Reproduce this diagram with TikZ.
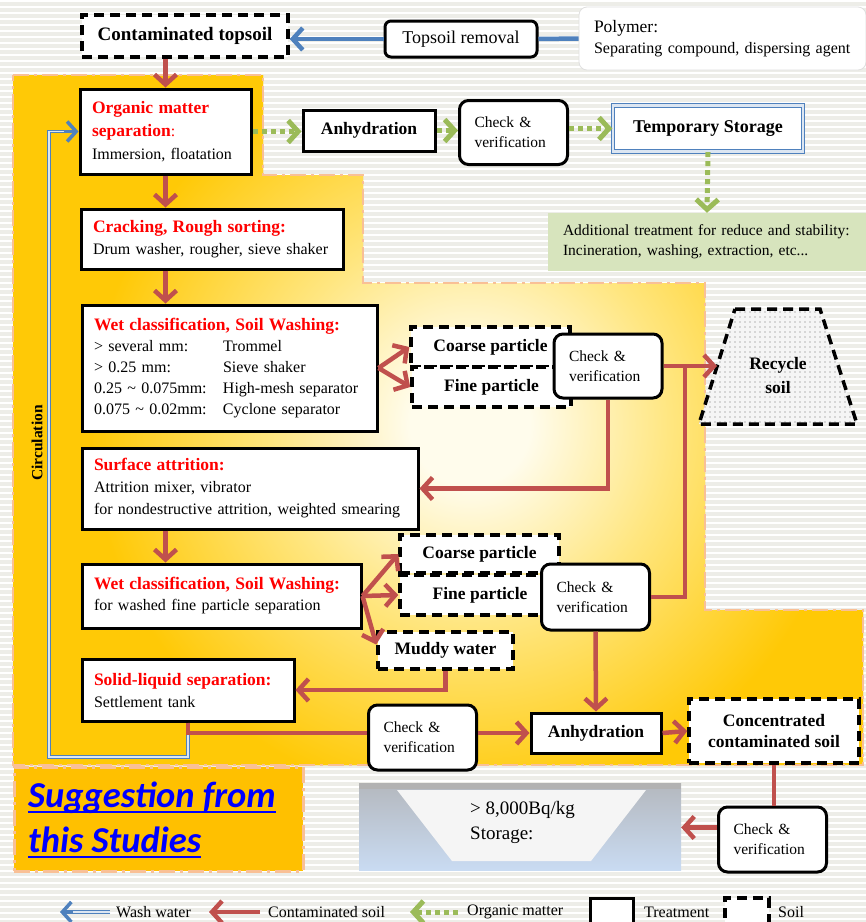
\documentclass[tikz,border=0pt]{standalone}
\usepackage{fontspec}
\setmainfont{Liberation Serif}
\newfontfamily\carl{Carlito}
\usetikzlibrary{arrows.meta,patterns.meta,calc}
\definecolor{redA}{HTML}{C0504D}
\definecolor{blueA}{HTML}{4F81BD}
\definecolor{greenA}{HTML}{9BBB59}
\definecolor{yelA}{HTML}{FFC906}
\definecolor{yelB}{HTML}{FFE680}
\definecolor{creamA}{HTML}{FFFCEC}
\definecolor{peachA}{HTML}{F9C096}
\definecolor{bgA}{HTML}{EDEDE8}
\definecolor{gboxA}{HTML}{D7E4BD}
\definecolor{sugA}{HTML}{FFC000}
\definecolor{sugBlue}{HTML}{0000FF}
\definecolor{titleRed}{HTML}{FF0000}
\definecolor{stTop}{HTML}{B4B8BE}
\definecolor{stBot}{HTML}{C9DBF2}
\definecolor{dblA}{HTML}{DCE6F2}
\pgfdeclareradialshading{yelshade}{\pgfpoint{0bp}{0bp}}{color(0bp)=(creamA); color(3bp)=(creamA); color(10bp)=(yelB); color(19bp)=(yelA); color(50bp)=(yelA)}
\newcommand\rgf{\fontsize{16}{22}\selectfont}
\newcommand\bdf{\fontsize{17.5}{22}\selectfont\bfseries}
\newcommand\ckf{\fontsize{15.5}{20}\selectfont}
\newcommand\ttl[1]{{\color{titleRed}\bdf #1}}
\begin{document}
\begin{tikzpicture}[x=1pt,y=-1pt,
  tbox/.style={draw=black, line width=3pt, fill=white, align=left, inner xsep=12pt, inner ysep=0pt, font=\rgf},
  ckbox/.style={draw=black, line width=3pt, fill=white, rounded corners=9pt, align=left, inner xsep=15pt, inner ysep=0pt, font=\ckf, text width=78, minimum height=64},
  soilbox/.style={draw=black, line width=3.5pt, dash pattern=on 10pt off 6pt, fill=white, align=center, inner sep=0pt, font=\bdf},
  abox/.style={draw=black, line width=3pt, fill=white, align=center, inner sep=0pt, font=\bdf},
  redline/.style={draw=redA, line width=4.5pt},
  redarrow/.style={redline, -{Straight Barb[length=10pt,width=22pt]}},
  greenarrow/.style={draw=greenA, line width=5pt, dash pattern=on 5pt off 4pt, -{Straight Barb[length=10pt,width=22pt]}},
  blueline/.style={draw=blueA, line width=4.5pt},
  bluearrow/.style={blueline, -{Straight Barb[length=10pt,width=22pt]}},
  washdbl/.style={draw=blueA, line width=1.1pt, double=dblA, double distance=1.6pt},
  washtip/.style={draw=blueA, line width=3.5pt, -{Straight Barb[length=9pt,width=20pt]}},
  regborder/.style={draw=peachA, line width=2.5pt, dash pattern=on 16pt off 5pt on 3pt off 5pt},
  lgtext/.style={anchor=west, font=\rgf, inner sep=0pt}
]
\useasboundingbox (0,0) rectangle (866,922);
\clip (0,0) rectangle (866,922);
% background stripes
\fill[bgA] (0,0) rectangle (866,922);
\foreach \yy in {1,7,...,925} \draw[white, line width=2.6pt] (0,\yy) -- (866,\yy);

% yellow process region
\begin{scope}
\clip (13,75) -- (263,75) -- (263,175) -- (363,175) -- (363,283) -- (705,283) -- (705,610) -- (863,610) -- (863,765) -- (13,765) -- cycle;
\fill[yelA] (0,60) rectangle (866,780);
\shade[shading=yelshade] (470,425) circle (500);
\end{scope}
\draw[regborder] (13,75) -- (263,75) -- (263,175) -- (363,175) -- (363,283) -- (705,283) -- (705,610) -- (863,610) -- (863,765) -- (13,765) -- cycle;

% suggestion box
\node[regborder, fill=sugA, minimum width=289, minimum height=104, anchor=north west, inner sep=0pt] (sugbox) at (13,766) {};
\node[anchor=base west, inner sep=0pt, text=sugBlue, font=\carl\fontsize{36.5}{44}\selectfont\bfseries\itshape] (sug1) at (28,807) {Suggestion from\hspace{7pt}};
\node[anchor=base west, inner sep=0pt, text=sugBlue, font=\carl\fontsize{36.5}{44}\selectfont\bfseries\itshape] (sug2) at (28,852) {this Studies};
\draw[sugBlue, line width=1.6pt] ([yshift=-5pt]sug1.base west) -- ([yshift=-5pt]sug1.base east);
\draw[sugBlue, line width=1.6pt] ([yshift=-5pt]sug2.base west) -- ([yshift=-5pt]sug2.base east);

% top row
\node[soilbox, minimum width=206, minimum height=42, font=\fontsize{19}{22}\selectfont\bfseries] (contam) at (185,36) {Contaminated topsoil};
\node[draw=black, line width=3pt, fill=white, rounded corners=6pt, minimum width=152, minimum height=36, inner sep=0pt, font=\fontsize{18}{22}\selectfont] (topsoil) at (461,39) {Topsoil removal};
\node[fill=white, draw=gray!25, line width=0.8pt, rounded corners=8pt, align=left, inner xsep=15pt, inner ysep=0pt, text width=257, minimum height=63, font=\fontsize{16}{21}\selectfont] (polymer) at (722.5,38.5) {{\fontsize{17.5}{21}\selectfont Polymer:}\\Separating compound, dispersing agent};

% organic matter branch
\node[tbox, text width=147, minimum height=85, font=\fontsize{16}{23}\selectfont] (organic) at (165.5,131.5) {\ttl{Organic matter}\\\ttl{separation}{\color{titleRed}:}\\Immersion, floatation};
\node[abox, minimum width=132, minimum height=41] (anhy1) at (369,130.5) {Anhydration};
\node[ckbox] (check1) at (513.5,132.5) {Check \&\\verification};
\node[draw=blueA, line width=1.3pt, double=dblA, double distance=2.2pt, fill=white, minimum width=190, minimum height=46, inner sep=0pt, font=\fontsize{18}{22}\selectfont\bfseries] (temp) at (708,128.5) {Temporary Storage};
\node[fill=gboxA, minimum width=318, minimum height=58, align=left, inner xsep=15pt, inner ysep=0pt, text width=288, font=\fontsize{15.5}{20}\selectfont] (gbox) at (707,242) {Additional treatment for reduce and stability:\\Incineration, washing, extraction, etc...};

% main column
\node[tbox, text width=238, minimum height=60] (cracking) at (212,239) {\ttl{Cracking, Rough sorting:}\\Drum washer, rougher, sieve shaker};
\node[tbox, text width=271, minimum height=126, font=\fontsize{16}{21}\selectfont] (wet1) at (229.5,368) {\ttl{Wet classification, Soil Washing:}\\
\makebox[129pt][l]{> several mm:}Trommel\\
\makebox[129pt][l]{> 0.25 mm:}Sieve shaker\\
\makebox[129pt][l]{0.25 \textasciitilde{} 0.075mm:}High-mesh separator\\
\makebox[129pt][l]{0.075 \textasciitilde{} 0.02mm:}Cyclone separator};
\node[soilbox, minimum width=159, minimum height=40] (coarse1) at (490.5,347) {Coarse particle};
\node[soilbox, minimum width=159, minimum height=40] (fine1) at (491.5,387) {Fine particle};
\node[ckbox] (check1A) at (608,366) {Check \&\\verification};

% recycle soil
\path[fill=gray!8, postaction={pattern={Dots[distance=5pt,radius=0.55pt]}, pattern color=black!55}] (735,309) -- (820,309) -- (857,424) -- (699,424) -- cycle;
\draw[black, line width=3.5pt, dash pattern=on 10pt off 6pt] (735,309) -- (820,309) -- (857,424) -- (699,424) -- cycle;
\node[align=center, font=\fontsize{17.5}{24}\selectfont\bfseries, inner sep=0pt] (recycle) at (778,376) {Recycle\\soil};
\coordinate (recL) at (717,366);
\coordinate (jn) at (685,366);

\node[tbox, text width=312, minimum height=81] (surface) at (250,488.5) {\ttl{Surface attrition:}\\Attrition mixer, vibrator\\for nondestructive attrition, weighted smearing};
\node[tbox, text width=255, minimum height=64, font=\fontsize{16}{21}\selectfont] (wet2) at (221.5,596) {\ttl{Wet classification, Soil Washing:}\\for washed fine particle separation};
\node[soilbox, minimum width=159, minimum height=38] (coarse2) at (479.5,554) {Coarse particle};
\node[soilbox, minimum width=160, minimum height=40] (fine2) at (480,595) {Fine particle};
\node[ckbox, minimum height=66] (check2) at (595.5,597) {Check \&\\verification};
\node[soilbox, minimum width=135, minimum height=37] (muddy) at (445.5,650.5) {Muddy water};
\node[tbox, text width=188, minimum height=62] (solid) at (188,690) {\ttl{Solid-liquid separation:}\\Settlement tank};
\node[ckbox, minimum height=65] (check3) at (422.5,737.5) {Check \&\\verification};
\node[abox, minimum width=130, minimum height=40] (anhy2) at (596,733) {Anhydration};
\node[soilbox, minimum width=170, minimum height=64, font=\fontsize{17.5}{21}\selectfont\bfseries] (conc) at (774,731) {Concentrated\\contaminated soil};
\node[ckbox, minimum height=65] (check4) at (772.5,839.5) {Check \&\\verification};

% storage
\node[top color=stTop, bottom color=stBot, minimum width=322, minimum height=87, inner sep=0pt] (storage) at (520,826.5) {};
\fill[gray!60] (storage.north west) rectangle ([yshift=-6pt]storage.north east);
\fill[gray!8] (397,790) -- (646,790) -- (591,861) -- (452,861) -- cycle;
\node[anchor=base west, inner sep=0pt, font=\fontsize{19}{24}\selectfont] (st1) at (470,814) {> 8,000Bq/kg};
\node[anchor=base west, inner sep=0pt, font=\fontsize{19}{24}\selectfont] (st2) at (470,839) {Storage:};

% circulation
\node[rotate=90, inner sep=0pt, font=\fontsize{15.5}{15}\selectfont\bfseries] (circ) at (37,443) {Circulation};
\coordinate (cbot) at (49,757);
\draw[washdbl] (solid.south) -- (solid.south |- cbot) -- (cbot) -- (cbot |- organic.west) -- ([xshift=-12pt]organic.west);
\draw[washtip] ([xshift=-15pt]organic.west) -- (organic.west);

% connectors: wash water / polymer
\draw[blueline] (polymer.west) -- (topsoil.east);
\draw[bluearrow] (topsoil.west) -- (topsoil.west -| contam.east);

% organic matter
\draw[greenarrow] (organic.east) -- (organic.east -| anhy1.west);
\draw[greenarrow] (anhy1.east) -- (anhy1.east -| check1.west);
\draw[greenarrow] (check1.east |- temp.west) -- (temp.west);
\draw[greenarrow] (temp.south) -- (gbox.north);

% contaminated soil
\draw[redarrow] (contam.south -| organic.north) -- (organic.north);
\draw[redarrow] (organic.south) -- (organic.south |- cracking.north);
\draw[redarrow] (organic.south |- cracking.south) -- (organic.south |- wet1.north);
\draw[redarrow] (wet1.east) -- (coarse1.west);
\draw[redarrow] (wet1.east) -- (fine1.west);
\draw[redarrow] (check1A.east) -- (recL);
\draw[redline] (check2.east) -| (jn);
\draw[redarrow] (check1A.south) |- (surface.east);
\draw[redarrow] (organic.south |- surface.south) -- (organic.south |- wet2.north);
\draw[redarrow] (wet2.east) -- (coarse2.west);
\draw[redarrow] (wet2.east) -- (fine2.west);
\draw[redarrow] (wet2.east) -- ([yshift=6pt]muddy.west);
\draw[redarrow] (muddy.south) |- (solid.east);
\draw[redline] (solid.south) |- (check3.west |- anhy2.west);
\draw[redarrow] (check3.east |- anhy2.west) -- (anhy2.west);
\draw[redarrow] (check2.south) -- (anhy2.north);
\draw[redarrow] (anhy2.east) -- (conc.west);
\draw[redline] (conc.south) -- (conc.south |- check4.north);
\draw[redarrow] ([yshift=12pt]check4.west) -- ([yshift=12pt]check4.west -| storage.east);

% legend
\coordinate (l1a) at (60,912); \coordinate (l1b) at (110,912);
\draw[washdbl] (l1b) -- ([xshift=10pt]l1a);
\draw[washtip] ([xshift=13pt]l1a) -- (l1a);
\node[lgtext] (lg1) at (116,912) {Wash water};
\coordinate (l2a) at (209,912); \coordinate (l2b) at (260,912);
\draw[redarrow] (l2b) -- (l2a);
\node[lgtext] (lg2) at (268,912) {Contaminated soil};
\coordinate (l3a) at (410,912); \coordinate (l3b) at (458,912);
\draw[greenarrow] (l3b) -- (l3a);
\node[lgtext] (lg3) at (467,912) {Organic matter};
\node[draw=black, line width=3pt, fill=white, minimum width=43, minimum height=30, inner sep=0pt] (lgbox1) at (611.5,913) {};
\node[lgtext] (lg4) at (644,912) {Treatment};
\node[draw=black, line width=3.5pt, dash pattern=on 10pt off 6pt, fill=white, minimum width=44, minimum height=30, inner sep=0pt] (lgbox2) at (747,913) {};
\node[lgtext] (lg5) at (778,912) {Soil};
\end{tikzpicture}
\end{document}
